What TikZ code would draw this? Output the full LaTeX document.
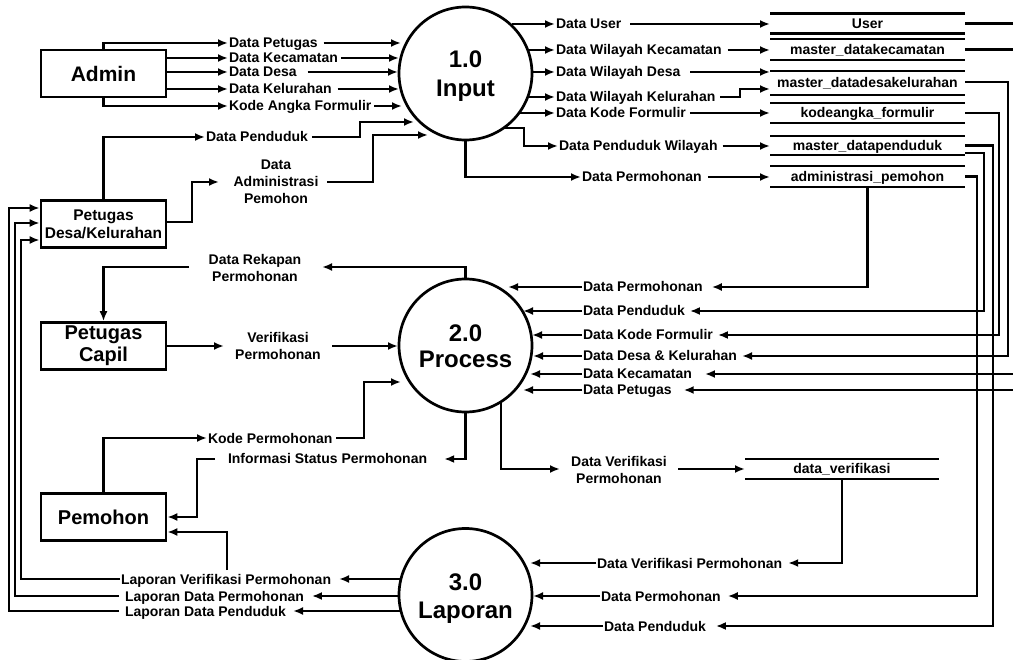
\documentclass[tikz,border=0pt]{standalone}
\usepackage{fontspec}
\setmainfont{Liberation Sans}
\usetikzlibrary{arrows.meta}
\begin{document}
\begin{tikzpicture}[x=1pt,y=-1pt,line width=2.7pt,
  flow/.style={-{Latex[length=10pt,width=8pt]}},
  lbl/.style={font=\fontsize{14}{17}\selectfont\bfseries, inner sep=1pt, outer sep=0pt, align=center},
  lbl1/.style={lbl, text height=10pt, text depth=0pt},
  ent/.style={draw, minimum width=125pt, minimum height=47pt, inner sep=0pt, align=center},
  proc/.style={draw, circle, minimum size=133pt, inner sep=0pt},
  ptext/.style={anchor=base, inner sep=0pt, font=\fontsize{24}{28}\selectfont\bfseries},
  store/.style={minimum width=195pt, inner sep=0pt, outer sep=0pt, text height=10pt, text depth=0pt, font=\fontsize{14}{17}\selectfont\bfseries}]
\fill[white] (0,0) rectangle (1013,660);
\useasboundingbox (0,0) rectangle (1013,660);

% entities
\node[ent, font=\fontsize{21}{25}\selectfont\bfseries] (admin) at (103.5,73.5) {Admin};
\node[ent, font=\fontsize{15.5}{18}\selectfont\bfseries] (desa) at (103.5,224) {Petugas\\Desa/Kelurahan};
\node[ent, font=\fontsize{20}{22}\selectfont\bfseries] (capil) at (103.5,346) {Petugas\\Capil};
\node[ent, font=\fontsize{20}{24}\selectfont\bfseries] (pemohon) at (103.5,517) {Pemohon};

% processes
\node[proc] (p1) at (465.5,73.5) {};
\node[ptext] (p1a) at (465.5,68) {1.0};
\node[ptext] (p1b) at (465.5,96.5) {Input};
\node[proc] (p2) at (465.5,345.5) {};
\node[ptext] (p2a) at (465.5,341.5) {2.0};
\node[ptext] (p2b) at (465.5,368) {Process};
\node[proc] (p3) at (465.5,595) {};
\node[ptext] (p3a) at (465.5,590) {3.0};
\node[ptext] (p3b) at (465.5,618) {Laporan};

% data stores
\node[store, minimum height=20pt] (sUser) at (867.5,23.5) {User};
\node[store, minimum height=21pt] (sKec) at (867.5,49.5) {master\_datakecamatan};
\node[store, minimum height=24pt] (sDesa) at (867.5,83) {master\_datadesakelurahan};
\node[store, minimum height=20pt] (sKode) at (867.5,113) {kodeangka\_formulir};
\node[store, minimum height=19pt] (sPend) at (867.5,145.5) {master\_datapenduduk};
\node[store, minimum height=21pt] (sAdm) at (867.5,176.5) {administrasi\_pemohon};
\node[store, minimum height=20pt, minimum width=194pt] (sVer) at (842,469) {data\_verifikasi};
\foreach \s in {sUser,sKec,sDesa,sKode,sPend,sAdm,sVer}
  \draw (\s.north west) -- (\s.north east) (\s.south west) -- (\s.south east);

% Admin -> 1.0
\node[lbl1, anchor=west] (lA1) at (228,43) {Data Petugas};
\node[lbl1, anchor=west] (lA2) at (228,58) {Data Kecamatan};
\node[lbl1, anchor=west] (lA3) at (228,72) {Data Desa};
\node[lbl1, anchor=west] (lA4) at (228,89) {Data Kelurahan};
\node[lbl1, anchor=west] (lA5) at (228,106) {Kode Angka Formulir};
\draw[flow] (admin.north) |- (lA1.west);
\draw[flow] (admin.east |- lA2.west) -- (lA2.west);
\draw[flow] (admin.east |- lA3.west) -- (lA3.west);
\draw[flow] (admin.east |- lA4.west) -- (lA4.west);
\draw[flow] (admin.south) |- (lA5.west);
\draw[flow] ([xshift=5pt]lA1.east) -- (401,43);
\draw[flow] ([xshift=2pt]lA2.east) -- (399,58);
\draw[flow] ([xshift=10pt]lA3.east) -- (398,72);
\draw[flow] ([xshift=5pt]lA4.east) -- (399,89);
\draw[flow] ([xshift=2pt]lA5.east) -- (402,106);

% Petugas Desa -> 1.0
\node[lbl1, anchor=west] (lD1) at (205,137) {Data Penduduk};
\draw[flow] (desa.north) |- (lD1.west);
\draw[flow] ([xshift=3pt]lD1.east) -- (360,137) -- (360,122) -- (414,122);
\node[lbl] (lD2) at (276,182) {Data\\Administrasi\\Pemohon};
\draw[flow] ([yshift=2pt]desa.east) -- (192,222) -- (192,182) -- (219,182);
\draw[flow] (327,182) -- (373,182) -- (373,135) -- (428,135);

% 1.0 -> stores
\node[lbl1, anchor=west] (lB1) at (555,24) {Data User};
\node[lbl1, anchor=west] (lB2) at (555,50) {Data Wilayah Kecamatan};
\node[lbl1, anchor=west] (lB3) at (555,72) {Data Wilayah Desa};
\node[lbl1, anchor=west] (lB4) at (555,97) {Data Wilayah Kelurahan};
\node[lbl1, anchor=west] (lB5) at (555,113) {Data Kode Formulir};
\node[lbl1, anchor=west] (lB6) at (558,146) {Data Penduduk Wilayah};
\node[lbl1, anchor=west] (lB7) at (581,177) {Data Permohonan};
\draw[flow] (512,24) -- (lB1.west);
\draw[flow] (527,50) -- (lB2.west);
\draw[flow] (532,72) -- (lB3.west);
\draw[flow] (528,97) -- (lB4.west);
\draw[flow] (520,113) -- (lB5.west);
\draw[flow] (503,128) -- (524,128) -- (524,146) -- (lB6.west);
\draw[flow] (p1.south) |- (lB7.west);
\draw[flow] ([xshift=8pt]lB1.east) -- (lB1.east -| sUser.west);
\draw[flow] ([xshift=5pt]lB2.east) -- (lB2.east -| sKec.west);
\draw[flow] ([xshift=9pt]lB3.east) -- (lB3.east -| sDesa.west);
\draw[flow] ([xshift=4pt]lB4.east) -- (740,97) -- (740,89) -- ([yshift=-6pt]sDesa.west);
\draw[flow] ([xshift=3pt]lB5.east) -- (sKode.west);
\draw[flow] ([xshift=4pt]lB6.east) -- (lB6.east -| sPend.west);
\draw[flow] ([xshift=5pt]lB7.east) -- (lB7.east -| sAdm.west);
\draw (sUser.east) -- (1013,23.5);
\draw (sKec.east) -- (1013,49.5);

% stores -> 2.0
\node[lbl1, anchor=west] (lC1) at (582,287) {Data Permohonan};
\node[lbl1, anchor=west] (lC2) at (582,311) {Data Penduduk};
\node[lbl1, anchor=west] (lC3) at (582,335) {Data Kode Formulir};
\node[lbl1, anchor=west] (lC4) at (582,356) {Data Desa \& Kelurahan};
\node[lbl1, anchor=west] (lC5) at (582,374) {Data Kecamatan};
\node[lbl1, anchor=west] (lC6) at (582,390) {Data Petugas};
\draw[flow] (sAdm.south) |- ([xshift=8pt]lC1.east);
\draw[flow] ([yshift=-7.5pt]sPend.east) -- (984,153) -- (984,311) -- ([xshift=4pt]lC2.east);
\draw[flow] (sKode.east) -- (999,113) -- (999,335) -- ([xshift=4pt]lC3.east);
\draw[flow] ([yshift=1pt]sDesa.east) -- (1008,82) -- (1008,356) -- ([xshift=4pt]lC4.east);
\draw[flow] (1013,374) -- ([xshift=12pt]lC5.east);
\draw[flow] (1013,390) -- ([xshift=11pt]lC6.east);
\draw[flow] (lC1.west) -- (508,287);
\draw[flow] (lC2.west) -- (523,311);
\draw[flow] (lC3.west) -- (532,335);
\draw[flow] (lC4.west) -- (533,356);
\draw[flow] (lC5.west) -- (530,374);
\draw[flow] (lC6.west) -- (523,390);

% 2.0 left side
\node[lbl] (lF1) at (255,267.5) {Data Rekapan\\Permohonan};
\draw[flow] (p2.north) |- (322,267);
\draw[flow] (189,267) -| (capil.north);
\node[lbl] (lF2) at (278,346) {Verifikasi\\Permohonan};
\draw[flow] (capil.east) -- (224,346);
\draw[flow] (332,346) -- (398,346);
\node[lbl1, anchor=west] (lF3) at (207,438) {Kode Permohonan};
\draw[flow] (pemohon.north) |- (lF3.west);
\draw[flow] ([xshift=3pt]lF3.east) -- (364,438) -- (364,382) -- (401,382);
\node[lbl1, anchor=west] (lF4) at (227,459) {Informasi Status Permohonan};
\draw[flow] (p2.south) |- ([xshift=16pt]lF4.east);
\draw[flow] (215,459) -- (197,459) -- (197,517) -- (pemohon.east);
\draw[flow] (227,570) -- (227,532) -- ([yshift=-15pt]pemohon.east);

% 2.0 -> data_verifikasi
\node[lbl] (lE0) at (619,469.5) {Data Verifikasi\\Permohonan};
\draw[flow] (501,402) -- (501,469) -- (560,469);
\draw[flow] (678,469) -- (sVer.west);

% stores -> 3.0
\node[lbl1, anchor=west] (lE1) at (596,563) {Data Verifikasi Permohonan};
\node[lbl1, anchor=west] (lE2) at (600,596) {Data Permohonan};
\node[lbl1, anchor=west] (lE3) at (603,626) {Data Penduduk};
\draw[flow] (sVer.south) |- ([xshift=5pt]lE1.east);
\draw[flow] (sAdm.east) -- (977,176.5) -- (977,596) -- ([xshift=6pt]lE2.east);
\draw[flow] (sPend.east) -- (993,145.5) -- (993,626) -- ([xshift=9pt]lE3.east);
\draw[flow] (lE1.west) -- (530,563);
\draw[flow] (lE2.west) -- (533,596);
\draw[flow] (lE3.west) -- (530,626);

% 3.0 -> Petugas Desa
\node[lbl1, anchor=west] (lG1) at (120,579) {Laporan Verifikasi Permohonan};
\node[lbl1, anchor=west] (lG2) at (124,596) {Laporan Data Permohonan};
\node[lbl1, anchor=west] (lG3) at (124,611) {Laporan Data Penduduk};
\draw[flow] (400,579) -- ([xshift=7pt]lG1.east);
\draw[flow] (400,596) -- ([xshift=7pt]lG2.east);
\draw[flow] (400,611) -- ([xshift=6pt]lG3.east);
\draw[flow] (lG1.west) -- (21,579) -- (21,240) -- ([yshift=-16pt]desa.west);
\draw[flow] (119,596) -- (15,596) -- (15,223) -- ([yshift=1pt]desa.west);
\draw[flow] (119,611) -- (9,611) -- (9,208) -- ([yshift=16pt]desa.west);
\end{tikzpicture}
\end{document}
